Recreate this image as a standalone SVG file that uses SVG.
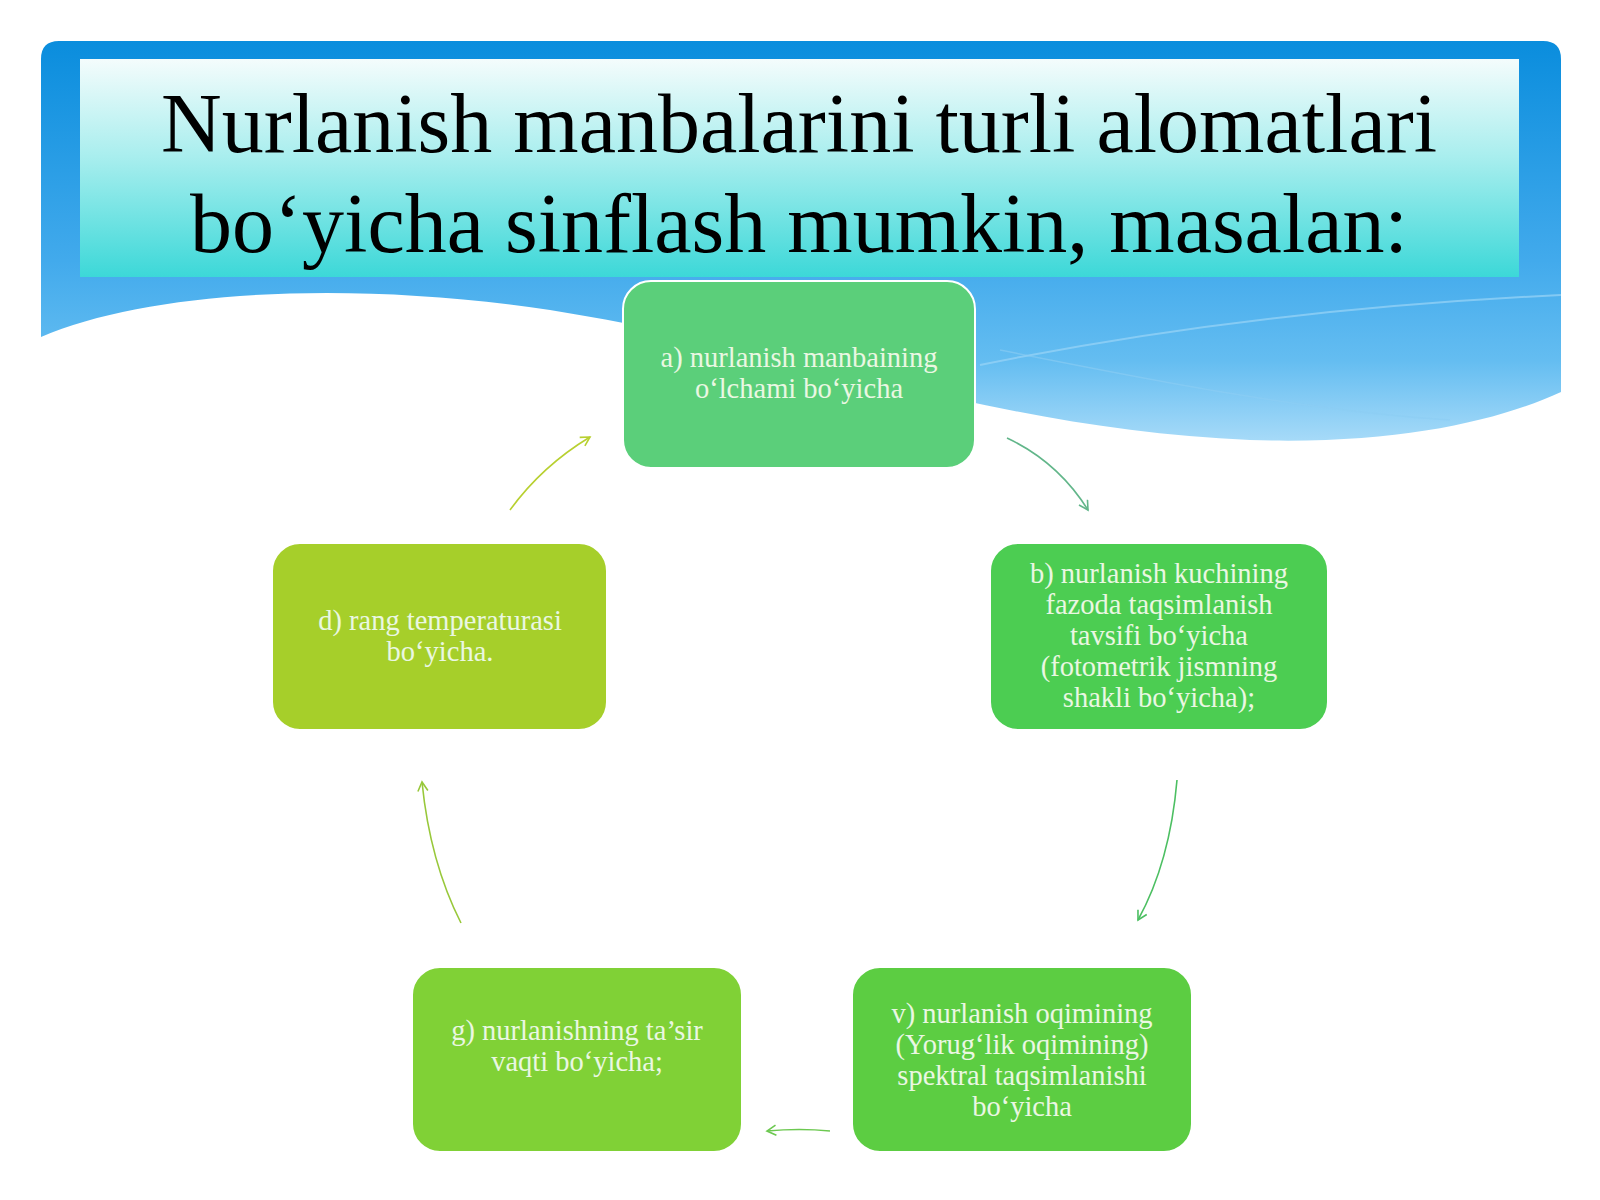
<svg xmlns="http://www.w3.org/2000/svg" width="1600" height="1200" viewBox="0 0 1600 1200">
  <defs>
    <linearGradient id="blueGrad" x1="0" y1="0" x2="0" y2="1">
      <stop offset="0" stop-color="#0a8ddd"/>
      <stop offset="0.55" stop-color="#42aaec"/>
      <stop offset="0.8" stop-color="#64bdf1"/>
      <stop offset="1" stop-color="#a6daf8"/>
    </linearGradient>
    <linearGradient id="titleGrad" x1="0" y1="0" x2="0" y2="1">
      <stop offset="0" stop-color="#f4fcfc"/>
      <stop offset="0.45" stop-color="#a8eeee"/>
      <stop offset="1" stop-color="#3cd8d8"/>
    </linearGradient>
    <marker id="mA" viewBox="0 0 12 12" refX="10" refY="6" markerWidth="12" markerHeight="12" markerUnits="userSpaceOnUse" orient="auto">
      <path d="M1,1 L10,6 L1,11" fill="none" stroke="#62b68a" stroke-width="1.6"/>
    </marker>
    <marker id="mB" viewBox="0 0 12 12" refX="10" refY="6" markerWidth="12" markerHeight="12" markerUnits="userSpaceOnUse" orient="auto">
      <path d="M1,1 L10,6 L1,11" fill="none" stroke="#4cbf62" stroke-width="1.6"/>
    </marker>
    <marker id="mV" viewBox="0 0 12 12" refX="10" refY="6" markerWidth="12" markerHeight="12" markerUnits="userSpaceOnUse" orient="auto">
      <path d="M1,1 L10,6 L1,11" fill="none" stroke="#6cc850" stroke-width="1.6"/>
    </marker>
    <marker id="mG" viewBox="0 0 12 12" refX="10" refY="6" markerWidth="12" markerHeight="12" markerUnits="userSpaceOnUse" orient="auto">
      <path d="M1,1 L10,6 L1,11" fill="none" stroke="#98c83a" stroke-width="1.6"/>
    </marker>
    <marker id="mD" viewBox="0 0 12 12" refX="10" refY="6" markerWidth="12" markerHeight="12" markerUnits="userSpaceOnUse" orient="auto">
      <path d="M1,1 L10,6 L1,11" fill="none" stroke="#b8d030" stroke-width="1.6"/>
    </marker>
  </defs>
  <style>
    .title { font-family: "Liberation Serif", "Times New Roman", serif; font-size: 84px; fill: #000; text-anchor: middle; }
    .node rect { stroke: #ffffff; stroke-width: 2; }
    .lbl { font-family: "Liberation Serif", "Times New Roman", serif; font-size: 28.5px; fill: #eaf7e2; text-anchor: middle; }
    .conn path { fill: none; stroke-width: 1.6; }
  </style>

  <rect x="0" y="0" width="1600" height="1200" fill="#ffffff"/>

  <!-- header background -->
  <g id="header">
    <path d="M59,41 H1543 Q1561,41 1561,59 V392 C1500,420 1400,445 1250,440 C1000,430 800,350 550,310 C350,280 150,290 41,337 V59 Q41,41 59,41 Z" fill="url(#blueGrad)"/>
    <path d="M980,365 C1150,330 1350,305 1561,295" fill="none" stroke="#9ad4f6" stroke-width="2" opacity="0.7"/>
    <path d="M1000,350 C1150,380 1300,410 1450,420" fill="none" stroke="#8ccdf4" stroke-width="1.5" opacity="0.6"/>
    <rect x="80" y="59" width="1439" height="218" fill="url(#titleGrad)"/>
    <text class="title" x="799" y="152">Nurlanish manbalarini turli alomatlari</text>
    <text class="title" x="799" y="252">bo‘yicha sinflash mumkin, masalan:</text>
  </g>

  <!-- connectors -->
  <g id="connectors" class="conn">
    <path d="M1007,438 Q1058,462 1088,510" stroke="#62b68a" marker-end="url(#mA)"/>
    <path d="M1177,780 Q1170,862 1138,920" stroke="#4cbf62" marker-end="url(#mB)"/>
    <path d="M830,1131 Q800,1128 767,1131" stroke="#6cc850" marker-end="url(#mV)"/>
    <path d="M461,923 Q430,862 422,782" stroke="#98c83a" marker-end="url(#mG)"/>
    <path d="M510,510 Q542,466 590,437" stroke="#b8d030" marker-end="url(#mD)"/>
  </g>

  <g id="node-a" class="node">
    <rect x="623" y="281" width="352" height="187" rx="28" fill="#5bcf7a"/>
    <text class="lbl" x="799" y="367">a) nurlanish manbaining</text>
    <text class="lbl" x="799" y="398">o‘lchami bo‘yicha</text>
  </g>

  <g id="node-b" class="node">
    <rect x="990" y="543" width="338" height="187" rx="28" fill="#4ccd52"/>
    <text class="lbl" x="1159" y="583">b) nurlanish kuchining</text>
    <text class="lbl" x="1159" y="614">fazoda taqsimlanish</text>
    <text class="lbl" x="1159" y="645">tavsifi bo‘yicha</text>
    <text class="lbl" x="1159" y="676">(fotometrik jismning</text>
    <text class="lbl" x="1159" y="707">shakli bo‘yicha);</text>
  </g>

  <g id="node-v" class="node">
    <rect x="852" y="967" width="340" height="185" rx="28" fill="#5ccd42"/>
    <text class="lbl" x="1022" y="1023">v) nurlanish oqimining</text>
    <text class="lbl" x="1022" y="1054">(Yorug‘lik oqimining)</text>
    <text class="lbl" x="1022" y="1085">spektral taqsimlanishi</text>
    <text class="lbl" x="1022" y="1116">bo‘yicha</text>
  </g>

  <g id="node-g" class="node">
    <rect x="412" y="967" width="330" height="185" rx="28" fill="#80d136"/>
    <text class="lbl" x="577" y="1040">g) nurlanishning ta’sir</text>
    <text class="lbl" x="577" y="1071">vaqti bo‘yicha;</text>
  </g>

  <g id="node-d" class="node">
    <rect x="272" y="543" width="335" height="187" rx="28" fill="#a6cf2a"/>
    <text class="lbl" x="440" y="630">d) rang temperaturasi</text>
    <text class="lbl" x="440" y="661">bo‘yicha.</text>
  </g>
</svg>
